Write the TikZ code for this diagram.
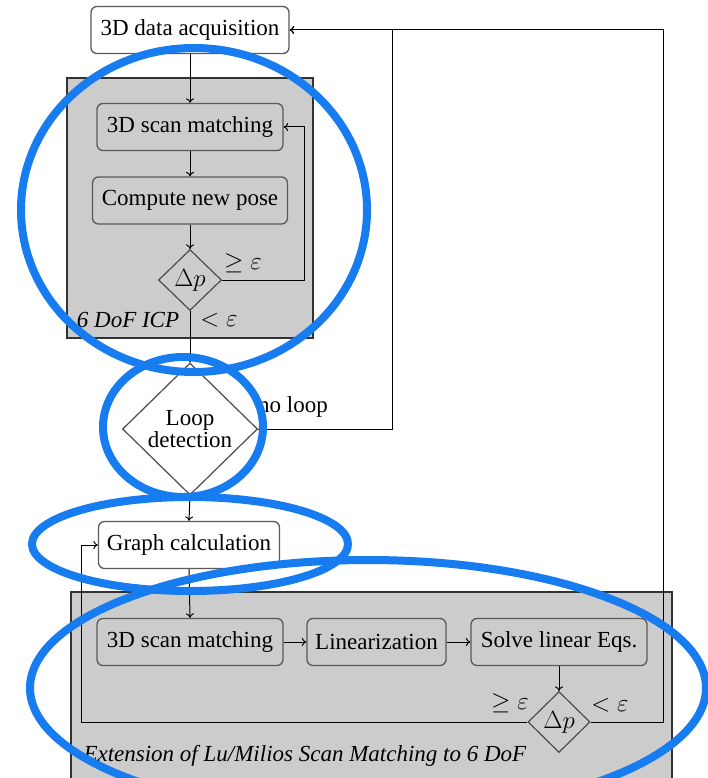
\documentclass[tikz,border=0pt]{standalone}
\usepackage{fontspec}
\setmainfont{Liberation Serif}
\usetikzlibrary{shapes.geometric,arrows.meta}
\definecolor{blueann}{RGB}{22,124,240}
\definecolor{grpgray}{RGB}{204,204,204}
\begin{document}
\begin{tikzpicture}[x=1pt,y=-1pt,
  txt/.style={font=\fontsize{23}{25}\selectfont, text=black},
  proc/.style={draw=black!65, line width=1.3pt, rounded corners=6pt, minimum height=47pt, inner xsep=4pt, txt},
  whiteproc/.style={proc, fill=white},
  dec/.style={diamond, draw=black!70, line width=1.2pt, inner sep=0pt, txt},
  conn/.style={draw=black, line width=1pt},
  arr/.style={conn, -{To[length=4.5pt,width=8pt]}},
  grp/.style={fill=grpgray, draw=black!80, line width=1.2pt},
  annot/.style={draw=blueann, line width=8pt}
]
\useasboundingbox (0,0) rectangle (708,778);
\fill[white] (0,0) rectangle (708,778);
% group backgrounds
\path[grp] (67,78) rectangle (313,338);
\path[grp] (71,592) rectangle (672,800);
% nodes
\node[whiteproc, minimum width=198pt] (acq) at (190,30) {3D data acquisition};
\node[proc, minimum width=186pt] (scan1) at (190,127) {3D scan matching};
\node[proc, minimum width=195pt] (pose) at (190,200.5) {Compute new pose};
\node[dec, minimum width=63pt, minimum height=61pt] (dp1) at (190,280) {$\Delta p$};
\node[dec, minimum width=135pt, minimum height=132pt, align=center, font=\fontsize{23}{20}\selectfont] (loop) at (190,429) {Loop\\detection};
\node[whiteproc, minimum width=181pt] (graph) at (189,545) {Graph calculation};
\node[proc, minimum width=186pt] (scan2) at (190,642) {3D scan matching};
\node[proc, minimum width=139pt] (lin) at (376.5,642) {Linearization};
\node[proc, minimum width=176pt] (solve) at (559,642) {Solve linear Eqs.};
\node[dec, minimum width=62pt, minimum height=61pt] (dp2) at (559,722) {$\Delta p$};
% labels
\node[txt] (ge1) at (243,263) {$\geq\varepsilon$};
\node[txt] (lt1) at (219,320) {$<\varepsilon$};
\node[txt, font=\fontsize{23}{25}\selectfont\itshape] (icp) at (128,320) {6 DoF ICP};
\node[txt] (noloop) at (293,407) {no loop};
\node[txt] (ge2) at (510,703) {$\geq\varepsilon$};
\node[txt] (lt2) at (610,705) {$<\varepsilon$};
\node[txt, anchor=west, font=\fontsize{23}{25}\selectfont\itshape] (ext) at (80,756) {Extension of Lu/Milios Scan Matching to 6 DoF};
% helper coordinates
\coordinate (r1) at (304,280);
\coordinate (r2) at (392,429);
\coordinate (r3) at (663,722);
\coordinate (l1) at (81,722);
% connectors
\draw[arr] (acq.south) -- (scan1.north);
\draw[arr] (scan1.south) -- (pose.north);
\draw[arr] (pose.south) -- (dp1.north);
\draw[arr] (dp1.east) -- (r1) |- (scan1.east);
\draw[arr] (dp1.south) -- (loop.north);
\draw[arr] (loop.east) -- (r2) |- (acq.east);
\draw[arr] (dp2.east) -- (r3) |- (acq.east);
\draw[arr] (loop.south) -- (graph.north);
\draw[arr] (graph.south) -- (scan2.north);
\draw[arr] (scan2.east) -- (lin.west);
\draw[arr] (lin.east) -- (solve.west);
\draw[arr] (solve.south) -- (dp2.north);
\draw[arr] (dp2.west) -- (l1) |- (graph.west);
% blue annotations
\draw[annot] (194,210) ellipse [x radius=173pt, y radius=162pt];
\draw[annot] (183,427) ellipse [x radius=80pt, y radius=70pt];
\draw[annot] (190,544) ellipse [x radius=158pt, y radius=47pt];
\draw[annot] (368,688) ellipse [x radius=338pt, y radius=128pt];
\end{tikzpicture}
\end{document}
